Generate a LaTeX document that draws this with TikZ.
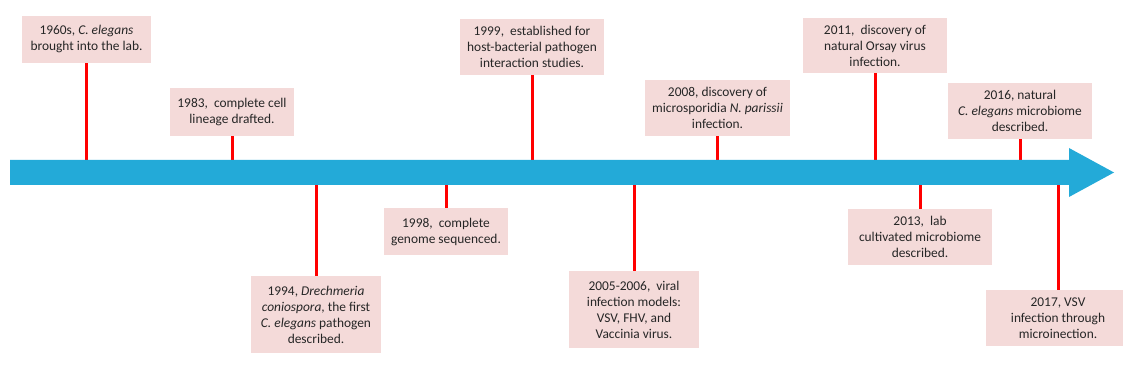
\documentclass[tikz,border=0pt]{standalone}
\usepackage{fontspec}
\setmainfont{Carlito}
\definecolor{barblue}{RGB}{35,170,216}
\definecolor{boxpink}{RGB}{244,218,217}
\definecolor{stemred}{RGB}{255,0,0}
\definecolor{txtgray}{RGB}{38,38,38}

\begin{document}
\begin{tikzpicture}[x=1pt,y=-1pt,
    event/.style={fill=boxpink, text=txtgray, align=center, inner sep=0pt,
                  font=\fontsize{13.4}{16}\selectfont},
    stem/.style={draw=stemred, line width=3pt}]
    \useasboundingbox (0,0) rectangle (1123,387);

    % events above the bar
    \node[event, minimum width=129pt, minimum height=47pt] (e1960) at (86.5,39.5)
        {1960s, \textit{C. elegans}\\brought into the lab.};
    \node[event, minimum width=124pt, minimum height=48pt] (e1983) at (232,112)
        {1983,~ complete cell\\lineage drafted.};
    \node[event, minimum width=144pt, minimum height=56pt] (e1999) at (532,47)
        {1999,~ established for\\host-bacterial pathogen\\interaction studies.};
    \node[event, minimum width=145pt, minimum height=56pt] (e2008) at (717.5,108)
        {2008, discovery of\\microsporidia \textit{N. parissii}\\infection.};
    \node[event, minimum width=144pt, minimum height=55pt] (e2011) at (875,45.5)
        {2011,~ discovery of\\natural Orsay virus\\infection.};
    \node[event, minimum width=144pt, minimum height=56pt] (e2016) at (1020,111)
        {2016, natural\\\textit{C. elegans} microbiome\\described.};

    % events below the bar
    \node[event, minimum width=130pt, minimum height=77pt] (e1994) at (316,314.5)
        {1994, \textit{Drechmeria}\\\textit{coniospora}, the first\\\textit{C. elegans} pathogen\\described.};
    \node[event, minimum width=124pt, minimum height=47pt] (e1998) at (446,231.5)
        {1998,~ complete\\genome sequenced.};
    \node[event, minimum width=130pt, minimum height=77pt] (e2005) at (634,309.5)
        {2005-2006,~ viral\\infection models:\\VSV, FHV, and\\Vaccinia virus.};
    \node[event, minimum width=144pt, minimum height=56pt] (e2013) at (920,237)
        {2013,~ lab\\cultivated microbiome\\described.};
    \node[event, minimum width=144pt, minimum height=56pt] (e2017) at (1058,318)
        {2017, VSV\\infection through\\microinection.};

    \coordinate (bartop) at (0,160);
    \coordinate (barbot) at (0,185);

    \foreach \e in {e1960,e1983,e1999,e2008,e2011,e2016}
        \draw[stem] (\e.south) -- (\e.south |- bartop);
    \foreach \e in {e1994,e1998,e2005,e2013,e2017}
        \draw[stem] (\e.north) -- (\e.north |- barbot);

    % the time bar
    \fill[barblue] (10,160) -- (1069,160) -- (1069,148) -- (1114,172.5)
        -- (1069,197) -- (1069,185) -- (10,185) -- cycle;
\end{tikzpicture}
\end{document}
